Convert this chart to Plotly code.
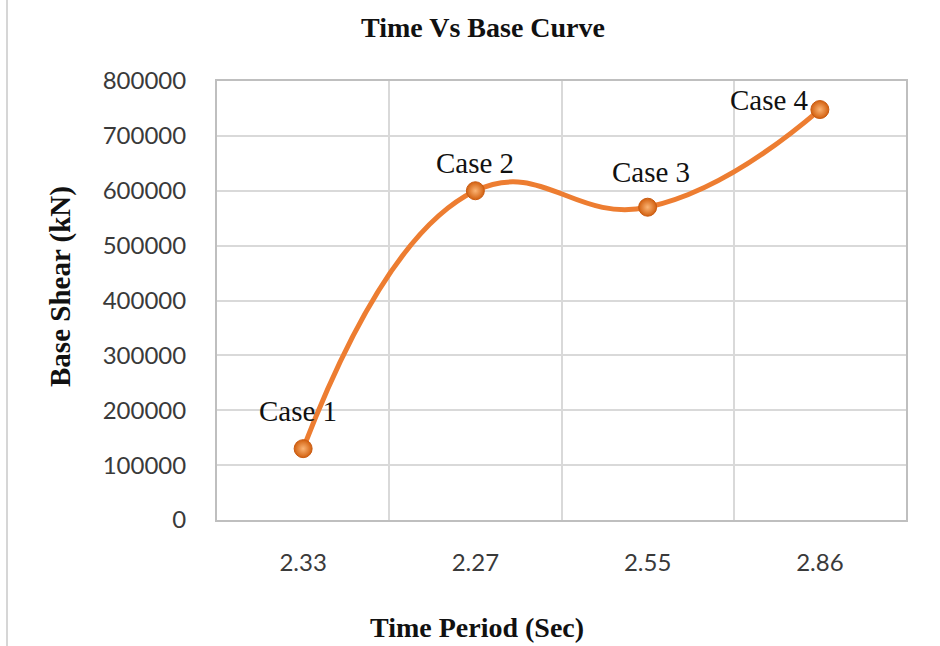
import plotly.graph_objects as go

# Data
time_periods = ["2.33", "2.27", "2.55", "2.86"]
base_shear = [130000, 600000, 570000, 748000]
case_labels = ["Case 1", "Case 2", "Case 3", "Case 4"]
y_ticks = [0, 100000, 200000, 300000, 400000, 500000, 600000, 700000, 800000]

# label offsets in pixels (x, y) relative to each point
label_shift = [(-5, 38), (0, 28), (3, 35), (-50, 10)]

ORANGE = "#ED7D31"

fig = go.Figure()
fig.add_trace(go.Scatter(
    x=time_periods, y=base_shear,
    mode="lines+markers",
    line=dict(color=ORANGE, width=5, shape="spline", smoothing=1.3),
    marker=dict(size=18, color="#D2600F",
                gradient=dict(type="radial", color="#FBB474"),
                line=dict(color="#C95A10", width=1)),
    showlegend=False, hoverinfo="x+y",
))

for i, (yv, lab, (dx, dy)) in enumerate(zip(base_shear, case_labels, label_shift)):
    fig.add_annotation(x=i, y=yv, xref="x", yref="y", text=lab, showarrow=False,
                       xshift=dx, yshift=dy,
                       font=dict(family="Liberation Serif", size=29, color="#111111"))

# axis titles as paper annotations
fig.add_annotation(x=(477 - 217) / 689, y=(520 - 627) / 439, xref="paper", yref="paper",
                   text="<b>Time Period (Sec)</b>", showarrow=False,
                   xanchor="center", yanchor="middle",
                   font=dict(family="Liberation Serif", size=28, color="#111111"))
fig.add_annotation(x=(60 - 217) / 689, y=(520 - 287) / 439, xref="paper", yref="paper",
                   text="<b>Base Shear (kN)</b>", showarrow=False, textangle=-90,
                   xanchor="center", yanchor="middle",
                   font=dict(family="Liberation Serif", size=29, color="#111111"))

fig.update_layout(
    width=940, height=646,
    margin=dict(l=217, r=34, t=81, b=126),
    paper_bgcolor="white", plot_bgcolor="white",
    title=dict(text="<b>Time Vs Base Curve</b>", x=483 / 940, xanchor="center",
               y=1 - 27 / 646, yanchor="middle",
               font=dict(family="Liberation Serif", size=28, color="#111111")),
    xaxis=dict(
        type="category", tickson="boundaries", automargin=False,
        showgrid=True, gridcolor="#d9d9d9", gridwidth=1.5,
        showline=True, linecolor="#bfbfbf", linewidth=2, mirror=True,
        ticks="", ticklabelstandoff=20,
        tickfont=dict(family="Lato", size=24, color="#3a3a3a"),
        range=[-0.5, 3.5],
    ),
    yaxis=dict(
        range=[0, 800000], tickvals=y_ticks, automargin=False,
        ticktext=[str(v) for v in y_ticks],
        showgrid=True, gridcolor="#d9d9d9", gridwidth=1.5,
        showline=True, linecolor="#bfbfbf", linewidth=2, mirror=True,
        zeroline=False, ticks="", ticklabelstandoff=24,
        tickfont=dict(family="Lato", size=24, color="#3a3a3a"),
    ),
    shapes=[dict(type="line", xref="paper", yref="paper",
                 x0=(7 - 217) / 689, x1=(7 - 217) / 689, y0=-2, y1=2,
                 line=dict(color="#d6d6d6", width=2))],
)

fig.write_html("out.html")
